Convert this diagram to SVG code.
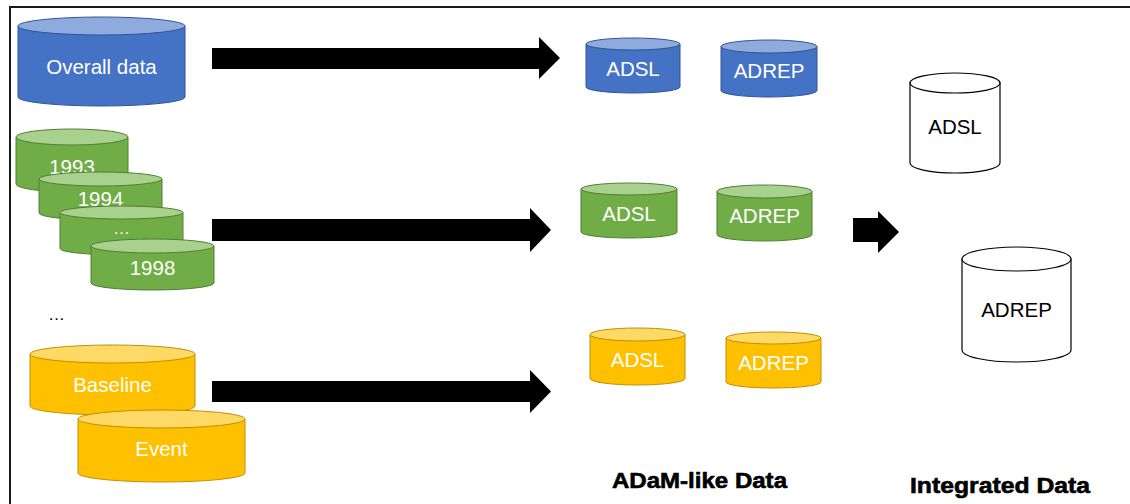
<svg xmlns="http://www.w3.org/2000/svg" width="1130" height="504" viewBox="0 0 1130 504">
<style>
  .lbl{font-family:"Liberation Sans",Arial,sans-serif;font-size:20.5px;text-anchor:middle;fill:#ffffff}
  .lblk{font-family:"Liberation Sans",Arial,sans-serif;font-size:20.5px;text-anchor:middle;fill:#000000}
  .blue .body{fill:#4472C4;stroke:#2F5597;stroke-width:1}
  .blue .top{fill:#8FAADC;stroke:#2F5597;stroke-width:1}
  .green .body{fill:#70AD47;stroke:#507E32;stroke-width:1}
  .green .top{fill:#A9D18E;stroke:#507E32;stroke-width:1}
  .yellow .body{fill:#FFC000;stroke:#BF9000;stroke-width:1}
  .yellow .top{fill:#FFD966;stroke:#BF9000;stroke-width:1}
  .white .body{fill:#ffffff;stroke:#000000;stroke-width:1.2}
  .white .top{fill:#ffffff;stroke:#000000;stroke-width:1.2}
  .arrow{fill:#000000}
  .title{font-family:"Liberation Sans",Arial,sans-serif;font-size:22px;font-weight:bold;fill:#000000;stroke:#000;stroke-width:0.6}
</style>
<rect x="0" y="0" width="1130" height="504" fill="#ffffff"/>
<rect x="10" y="7" width="1130" height="510" fill="none" stroke="#1a1a1a" stroke-width="2"/>

<g id="overall" class="blue">
  <path class="body" d="M18,26 L18,97 A83.5,9 0 0 0 185,97 L185,26 Z"/>
  <ellipse class="top" cx="101.5" cy="26" rx="83.5" ry="9"/>
  <text class="lbl" x="101.5" y="74">Overall data</text>
</g>
<g id="y1993" class="green">
  <path class="body" d="M16,137 L16,184 A56,8 0 0 0 128,184 L128,137 Z"/>
  <ellipse class="top" cx="72" cy="137" rx="56" ry="8"/>
  <text class="lbl" x="72" y="174">1993</text>
</g>
<g id="y1994" class="green">
  <path class="body" d="M39,179 L39,213 A61.5,7 0 0 0 162,213 L162,179 Z"/>
  <ellipse class="top" cx="100.5" cy="179" rx="61.5" ry="7"/>
  <text class="lbl" x="100.5" y="206">1994</text>
</g>
<g id="ydots" class="green">
  <path class="body" d="M60,212.5 L60,248.5 A61.5,6.5 0 0 0 183,248.5 L183,212.5 Z"/>
  <ellipse class="top" cx="121.5" cy="212.5" rx="61.5" ry="6.5"/>
  <text class="lbl" x="121.5" y="234" style="font-size:17px">…</text>
</g>
<g id="y1998" class="green">
  <path class="body" d="M91,246 L91,283 A61.5,7 0 0 0 214,283 L214,246 Z"/>
  <ellipse class="top" cx="152.5" cy="246" rx="61.5" ry="7"/>
  <text class="lbl" x="152.5" y="275">1998</text>
</g>
<g id="moredots">
  <text x="48" y="320" style="font-family:'Liberation Sans',Arial,sans-serif;font-size:17px;fill:#000">…</text>
</g>
<g id="baseline" class="yellow">
  <path class="body" d="M30,354 L30,406 A82.5,9 0 0 0 195,406 L195,354 Z"/>
  <ellipse class="top" cx="112.5" cy="354" rx="82.5" ry="9"/>
  <text class="lbl" x="112.5" y="392">Baseline</text>
</g>
<g id="event" class="yellow">
  <path class="body" d="M78,419 L78,473 A83.5,9 0 0 0 245,473 L245,419 Z"/>
  <ellipse class="top" cx="161.5" cy="419" rx="83.5" ry="9"/>
  <text class="lbl" x="161.5" y="456">Event</text>
</g>

<g id="adsl-blue" class="blue">
  <path class="body" d="M586,44 L586,87 A47,6 0 0 0 680,87 L680,44 Z"/>
  <ellipse class="top" cx="633" cy="44" rx="47" ry="6"/>
  <text class="lbl" x="633" y="76">ADSL</text>
</g>
<g id="adrep-blue" class="blue">
  <path class="body" d="M721,46.5 L721,90.5 A48,6.5 0 0 0 817,90.5 L817,46.5 Z"/>
  <ellipse class="top" cx="769" cy="46.5" rx="48" ry="6.5"/>
  <text class="lbl" x="769" y="78">ADREP</text>
</g>
<g id="adsl-green" class="green">
  <path class="body" d="M581,189 L581,232 A48,6 0 0 0 677,232 L677,189 Z"/>
  <ellipse class="top" cx="629" cy="189" rx="48" ry="6"/>
  <text class="lbl" x="629" y="221">ADSL</text>
</g>
<g id="adrep-green" class="green">
  <path class="body" d="M717,191.5 L717,234.5 A47.5,6.5 0 0 0 812,234.5 L812,191.5 Z"/>
  <ellipse class="top" cx="764.5" cy="191.5" rx="47.5" ry="6.5"/>
  <text class="lbl" x="764.5" y="223">ADREP</text>
</g>
<g id="adsl-yellow" class="yellow">
  <path class="body" d="M590,334.5 L590,378.5 A47.5,6.5 0 0 0 685,378.5 L685,334.5 Z"/>
  <ellipse class="top" cx="637.5" cy="334.5" rx="47.5" ry="6.5"/>
  <text class="lbl" x="637.5" y="367">ADSL</text>
</g>
<g id="adrep-yellow" class="yellow">
  <path class="body" d="M726,338 L726,382 A47.5,6 0 0 0 821,382 L821,338 Z"/>
  <ellipse class="top" cx="773.5" cy="338" rx="47.5" ry="6"/>
  <text class="lbl" x="773.5" y="370">ADREP</text>
</g>

<g id="adsl-int" class="white">
  <path class="body" d="M910,83 L910,163 A45,10 0 0 0 1000,163 L1000,83 Z"/>
  <ellipse class="top" cx="955" cy="83" rx="45" ry="10"/>
  <text class="lblk" x="955" y="134">ADSL</text>
</g>
<g id="adrep-int" class="white">
  <path class="body" d="M962,259 L962,350 A54.5,12 0 0 0 1071,350 L1071,259 Z"/>
  <ellipse class="top" cx="1016.5" cy="259" rx="54.5" ry="12"/>
  <text class="lblk" x="1016.5" y="317">ADREP</text>
</g>

<g id="connectors">
  <polygon class="arrow" points="212,48 539,48 539,37 560,58 539,79 539,69 212,69"/>
  <polygon class="arrow" points="212,219 530,219 530,208 551,230 530,252 530,241 212,241"/>
  <polygon class="arrow" points="212,381 530,381 530,370 551,391.5 530,413 530,402 212,402"/>
  <polygon class="arrow" points="853,218 878,218 878,211 899,232 878,253 878,242 853,242"/>
</g>

<g id="labels">
  <text class="title" x="612" y="488" textLength="175" lengthAdjust="spacingAndGlyphs">ADaM-like Data</text>
  <text class="title" x="910" y="493" textLength="180" lengthAdjust="spacingAndGlyphs">Integrated Data</text>
</g>
</svg>
